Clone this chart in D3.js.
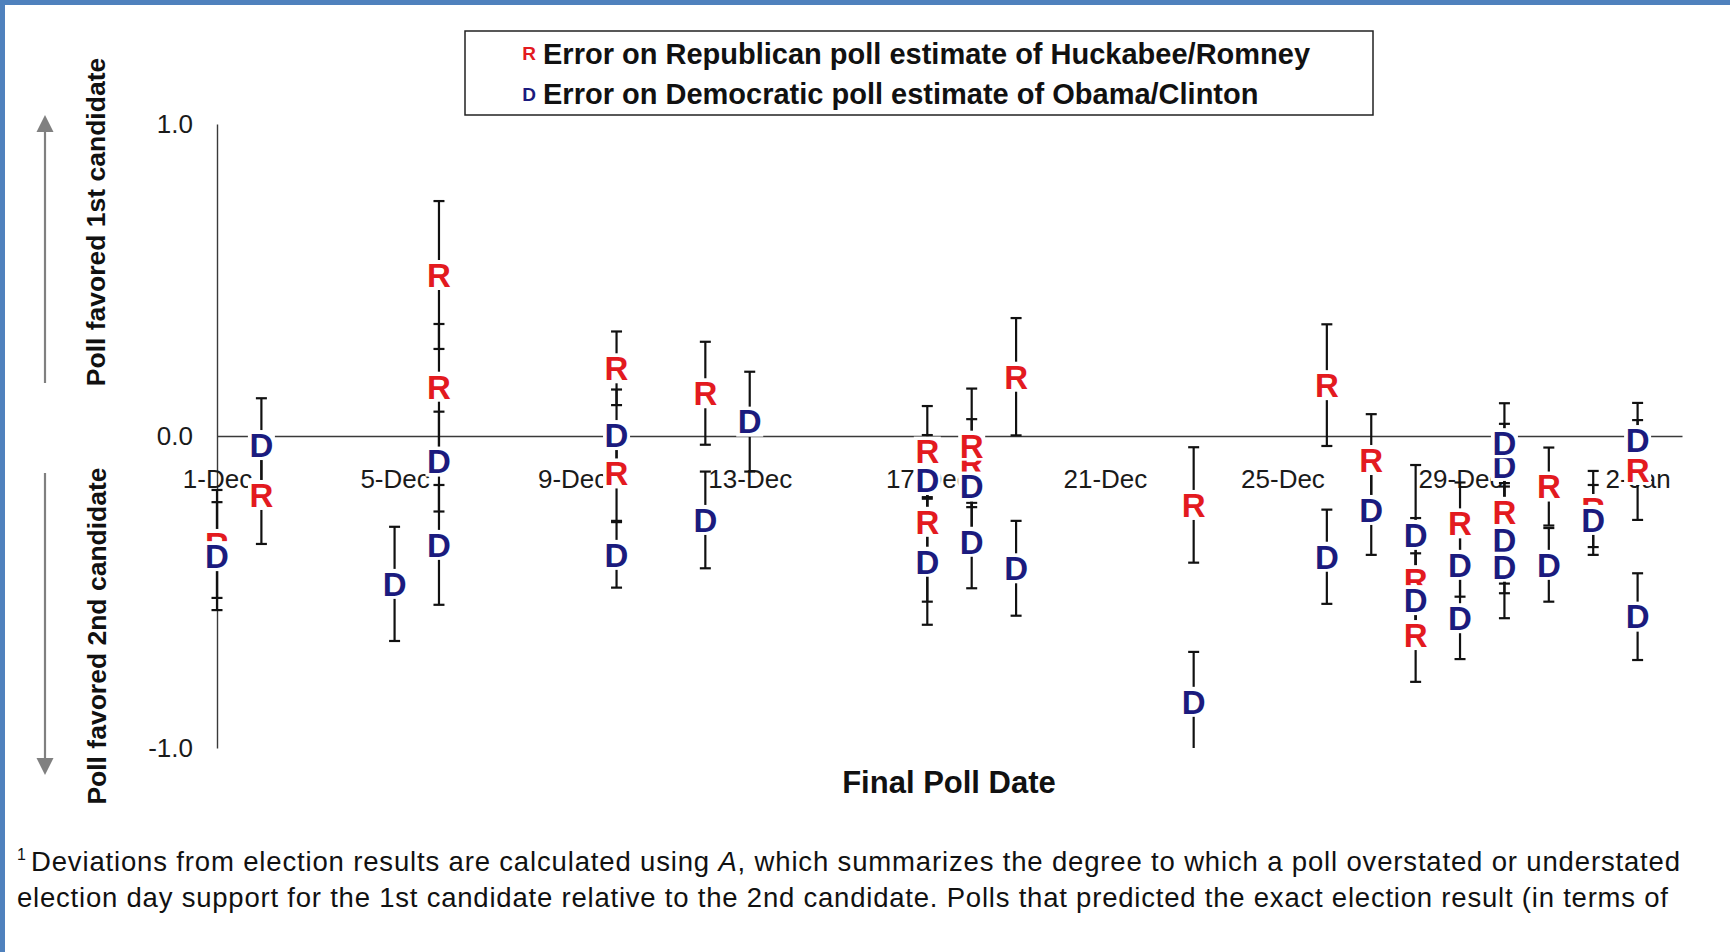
<!DOCTYPE html>
<html>
<head>
<meta charset="utf-8">
<script src="https://cdn.jsdelivr.net/npm/d3@7"></script>
<style>
  html, body { margin: 0; padding: 0; background: #ffffff; }
  svg { display: block; }
  text { font-family: "Liberation Sans", Arial, sans-serif; }
</style>
</head>
<body>
<svg id="chart" width="1730" height="952"></svg>
<script>
// Poll date axis labels
const tickDates  = ["2007-12-01","2007-12-05","2007-12-09","2007-12-13","2007-12-17","2007-12-21","2007-12-25","2007-12-29","2008-01-02"];
const tickLabels = ["1-Dec","5-Dec","9-Dec","13-Dec","17-Dec","21-Dec","25-Dec","29-Dec","2-Jan"];
const yTicks      = [1, 0, -1];
const yTickLabels = ["1.0", "0.0", "-1.0"];

// Republican polls (Huckabee/Romney): final poll date, error A, margin
const repDates = ["2007-12-01","2007-12-02","2007-12-06","2007-12-06","2007-12-10","2007-12-10","2007-12-12","2007-12-17","2007-12-17","2007-12-18","2007-12-18","2007-12-19","2007-12-23","2007-12-26","2007-12-27","2007-12-28","2007-12-28","2007-12-29","2007-12-30","2007-12-31","2008-01-01","2008-01-02"];
const repErrors  = [-0.346,-0.189, 0.516, 0.158, 0.217,-0.120, 0.137,-0.050,-0.275,-0.087,-0.031, 0.190,-0.221, 0.163,-0.077,-0.462,-0.638,-0.280,-0.243,-0.162,-0.234,-0.109];
const repMargins = [ 0.173, 0.157, 0.237, 0.201, 0.118, 0.152, 0.165, 0.146, 0.256, 0.141, 0.183, 0.188, 0.185, 0.195, 0.147, 0.199, 0.150, 0.131, 0.230, 0.125, 0.122, 0.160];

// Democratic polls (Obama/Clinton): final poll date, error A, margin
const demDates = ["2007-12-01","2007-12-02","2007-12-05","2007-12-06","2007-12-06","2007-12-10","2007-12-10","2007-12-12","2007-12-13","2007-12-17","2007-12-17","2007-12-18","2007-12-18","2007-12-19","2007-12-23","2007-12-26","2007-12-27","2007-12-28","2007-12-28","2007-12-29","2007-12-29","2007-12-30","2007-12-30","2007-12-30","2007-12-30","2007-12-31","2008-01-01","2008-01-02","2008-01-02"];
const demErrors  = [-0.385,-0.029,-0.474,-0.082,-0.349, 0.003,-0.381,-0.269, 0.046,-0.141,-0.403,-0.162,-0.339,-0.424,-0.852,-0.387,-0.237,-0.317,-0.526,-0.413,-0.584,-0.096,-0.023,-0.333,-0.419,-0.413,-0.269,-0.013,-0.579];
const demMargins = [ 0.173, 0.150, 0.183, 0.160, 0.192, 0.146, 0.105, 0.155, 0.160, 0.144, 0.202, 0.144, 0.149, 0.152, 0.160, 0.151, 0.144, 0.224, 0.150, 0.102, 0.131, 0.135, 0.128, 0.171, 0.165, 0.118, 0.112, 0.119, 0.139];

const legendItems = [
  { letter: "R", color: "#e31a1f", label: "Error on Republican poll estimate of Huckabee/Romney" },
  { letter: "D", color: "#1b1b7e", label: "Error on Democratic poll estimate of Obama/Clinton" }
];

const footnoteLines = [
  ["Deviations from election results are calculated using ", "A", ", which summarizes the degree to which a poll overstated or understated"],
  ["election day support for the 1st candidate relative to the 2nd candidate.  Polls that predicted the exact election result (in terms of"]
];

const parse = d3.utcParse("%Y-%m-%d");
const svg = d3.select("#chart");

// slide frame
svg.append("rect").attr("x", 0).attr("y", 0).attr("width", 1730).attr("height", 952).attr("fill", "#ffffff");
svg.append("rect").attr("x", 0).attr("y", 0).attr("width", 1730).attr("height", 5).attr("fill", "#4f81bd");
svg.append("rect").attr("x", 0).attr("y", 0).attr("width", 5).attr("height", 952).attr("fill", "#4f81bd");

const x = d3.scaleUtc().domain([parse("2007-12-01"), parse("2008-01-03")]).range([217, 1682]);
const y = d3.scaleLinear().domain([-1, 1]).range([748, 124]);

// y axis
const gy = svg.append("g")
  .attr("transform", `translate(${x.range()[0]},0)`)
  .call(d3.axisLeft(y).tickValues(yTicks).tickFormat((d, i) => yTickLabels[i]).tickSize(0).tickSizeOuter(0).tickPadding(24));
gy.select(".domain").attr("stroke", "#3a3a3a").attr("stroke-width", 1.4);
gy.selectAll("text").attr("font-size", 26).attr("fill", "#1a1a1a").style("font-family", "'Liberation Sans', Arial, sans-serif");

// x axis at zero
const gx = svg.append("g")
  .attr("transform", `translate(0,${y(0)})`)
  .call(d3.axisBottom(x).tickValues(tickDates.map(parse)).tickFormat((d, i) => tickLabels[i]).tickSize(0).tickSizeOuter(0).tickPadding(34));
gx.select(".domain").attr("stroke", "#3a3a3a").attr("stroke-width", 1.4);
gx.selectAll("text").attr("font-size", 26).attr("fill", "#1a1a1a").style("font-family", "'Liberation Sans', Arial, sans-serif");

// clip for the plot area
svg.append("clipPath").attr("id", "plotClip")
  .append("rect").attr("x", 150).attr("y", y(1)).attr("width", 1580).attr("height", y(-1) - y(1));

const rep = repDates.map((d, i) => ({ date: parse(d), v: repErrors[i], m: repMargins[i], letter: "R", color: legendItems[0].color }));
const dem = demDates.map((d, i) => ({ date: parse(d), v: demErrors[i], m: demMargins[i], letter: "D", color: legendItems[1].color }));
const all = rep.concat(dem);

// error bars
const capHalf = 5.5;
const bars = svg.append("g").attr("clip-path", "url(#plotClip)")
  .attr("stroke", "#111").attr("stroke-width", 2.2).attr("fill", "none");
bars.selectAll("g.eb").data(all).join("g").attr("class", "eb").each(function (d) {
  const g = d3.select(this);
  const cx = x(d.date), y0 = y(d.v - d.m), y1 = y(d.v + d.m);
  g.append("line").attr("x1", cx).attr("x2", cx).attr("y1", y0).attr("y2", y1);
  g.append("line").attr("x1", cx - capHalf).attr("x2", cx + capHalf).attr("y1", y0).attr("y2", y0);
  g.append("line").attr("x1", cx - capHalf).attr("x2", cx + capHalf).attr("y1", y1).attr("y2", y1);
});

// letter markers on white tiles
const markerSize = 33;
const marks = svg.append("g");
marks.selectAll("g.mk").data(all).join("g").attr("class", "mk")
  .attr("transform", d => `translate(${x(d.date)},${y(d.v)})`)
  .each(function (d) {
    const g = d3.select(this);
    g.append("rect").attr("x", -13.5).attr("y", -15).attr("width", 27).attr("height", 30).attr("fill", "#ffffff");
    g.append("text").attr("text-anchor", "middle").attr("y", markerSize * 0.716 / 2)
      .attr("font-size", markerSize).attr("font-weight", "bold").attr("fill", d.color).text(d.letter);
  });

// legend
const lg = svg.append("g");
lg.append("rect").attr("x", 465).attr("y", 31).attr("width", 908).attr("height", 84)
  .attr("fill", "#ffffff").attr("stroke", "#222").attr("stroke-width", 1.5);
const rowsY = [53.5, 94];
legendItems.forEach((it, i) => {
  lg.append("text").attr("x", 529).attr("y", rowsY[i] + 19 * 0.716 / 2).attr("text-anchor", "middle")
    .attr("font-size", 19).attr("font-weight", "bold").attr("fill", it.color).text(it.letter);
  lg.append("text").attr("x", 543).attr("y", rowsY[i] + 29 * 0.716 / 2)
    .attr("font-size", 29).attr("font-weight", "bold").attr("fill", "#111").text(it.label);
});

// axis titles
svg.append("text").attr("x", 949).attr("y", 793).attr("text-anchor", "middle")
  .attr("font-size", 31).attr("font-weight", "bold").attr("fill", "#111").text("Final Poll Date");
svg.append("text").attr("transform", "translate(105,222) rotate(-90)").attr("text-anchor", "middle")
  .attr("font-size", 26.5).attr("font-weight", "bold").attr("fill", "#111").text("Poll favored 1st candidate");
svg.append("text").attr("transform", "translate(106,636) rotate(-90)").attr("text-anchor", "middle")
  .attr("font-size", 26.5).attr("font-weight", "bold").attr("fill", "#111").text("Poll favored 2nd candidate");

// direction arrows
const arrowColor = "#808080";
svg.append("line").attr("x1", 45).attr("x2", 45).attr("y1", 383).attr("y2", 128).attr("stroke", arrowColor).attr("stroke-width", 2.2);
svg.append("path").attr("d", "M45,115 L36.5,132 L53.5,132 Z").attr("fill", arrowColor);
svg.append("line").attr("x1", 45).attr("x2", 45).attr("y1", 473).attr("y2", 762).attr("stroke", arrowColor).attr("stroke-width", 2.2);
svg.append("path").attr("d", "M45,775 L36.5,758 L53.5,758 Z").attr("fill", arrowColor);

// footnote
const fn = svg.append("g").attr("fill", "#111");
fn.append("text").attr("x", 17).attr("y", 860).attr("font-size", 16).text("1");
const l1 = fn.append("text").attr("x", 31).attr("y", 871).attr("font-size", 27.5)
  .attr("textLength", 1649).attr("lengthAdjust", "spacing");
l1.append("tspan").text(footnoteLines[0][0]);
l1.append("tspan").attr("font-style", "italic").text(footnoteLines[0][1]);
l1.append("tspan").text(footnoteLines[0][2]);
fn.append("text").attr("x", 17).attr("y", 907).attr("font-size", 27.5)
  .attr("textLength", 1651).attr("lengthAdjust", "spacing").text(footnoteLines[1][0]);
</script>
</body>
</html>
